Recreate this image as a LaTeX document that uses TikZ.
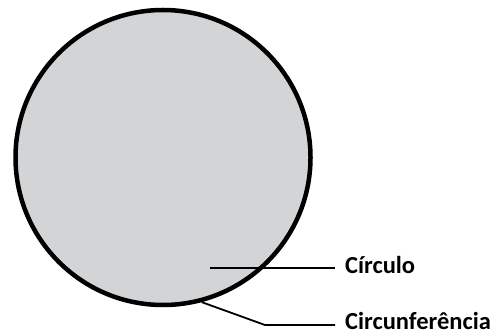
\documentclass[tikz,border=0pt]{standalone}
\usepackage{fontspec}
\setmainfont{Carlito}
\definecolor{discfill}{RGB}{211,212,214}
\begin{document}
\begin{tikzpicture}[x=1pt,y=-1pt,
  disc/.style={circle,draw=black,fill=discfill,line width=4.5pt,minimum size=295pt,inner sep=0pt},
  lbl/.style={anchor=base west,inner sep=0pt,font=\fontsize{24.5}{28}\selectfont\bfseries},
  leader/.style={line width=1.8pt,black}]
\useasboundingbox (0,0) rectangle (502,336);
\node[disc] (circ) at (163,157.5) {};
\node[lbl] (lcirc) at (345,273) {Círculo};
\node[lbl] (lcfr) at (345,329.5) {Circunferência};
\coordinate (cin) at (210,268);
\coordinate (cend) at (335,268);
\coordinate (bend) at (265,325);
\coordinate (fend) at (335,325);
\draw[leader] (cin) -- (cend);
\draw[leader] (circ.-75.7) -- (bend) -- (fend);
\end{tikzpicture}
\end{document}
